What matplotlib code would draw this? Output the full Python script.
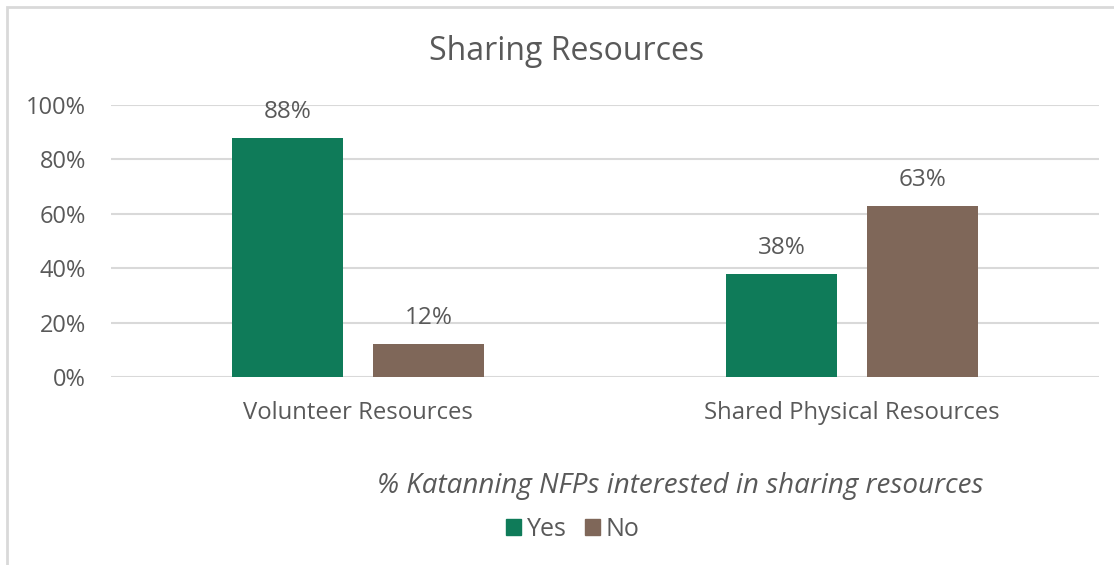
import matplotlib.pyplot as plt
import numpy as np
from matplotlib.patches import Patch, Rectangle

categories = ['Volunteer Resources', 'Shared Physical Resources']
yes_values = [88, 38]
no_values = [12, 63]
series_names = ['Yes', 'No']
y_ticks = [0, 20, 40, 60, 80, 100]

green = '#0f7b59'
brown = '#7f6759'
text_grey = '#595959'
grid_grey = '#d9d9d9'

plt.rcParams['font.family'] = ['Open Sans', 'DejaVu Sans']

fig = plt.figure(figsize=(11.14, 5.65), dpi=100)
ax = fig.add_axes([111 / 1114, 1 - 377 / 565, 988 / 1114, 272 / 565])

x = np.arange(len(categories))
width = 0.225
offset = 0.1425

bars_yes = ax.bar(x - offset, yes_values, width, color=green, zorder=3)
bars_no = ax.bar(x + offset, no_values, width, color=brown, zorder=3)

for bars in (bars_yes, bars_no):
    for b in bars:
        ax.annotate(f'{b.get_height():.0f}%',
                    (b.get_x() + b.get_width() / 2, b.get_height()),
                    xytext=(0, 10), textcoords='offset points',
                    ha='center', va='bottom', fontsize=17.5, color=text_grey)

ax.set_xlim(-0.5, 1.5)
ax.set_ylim(0, 100)
ax.set_yticks(y_ticks)
ax.set_yticklabels([f'{v}%' for v in y_ticks])
ax.set_xticks(x)
ax.set_xticklabels(categories)
ax.tick_params(axis='y', length=0, pad=18, labelsize=17, labelcolor=text_grey)
ax.tick_params(axis='x', length=0, pad=17, labelsize=17.2, labelcolor=text_grey)

ax.grid(axis='y', color=grid_grey, linewidth=1.5, zorder=0)
for side in ['top', 'right', 'left', 'bottom']:
    ax.spines[side].set_visible(False)

fig.text(567 / 1114, 1 - 51 / 565, 'Sharing Resources', ha='center', va='center',
         fontsize=23, color=text_grey)
fig.text(680 / 1114, 1 - 486 / 565, '% Katanning NFPs interested in sharing resources',
         ha='center', va='center', fontsize=20, style='italic', color=text_grey)

handles = [Patch(color=green), Patch(color=brown)]
fig.legend(handles, series_names, loc='center', bbox_to_anchor=(573 / 1114, 1 - 529 / 565),
           ncol=2, frameon=False, fontsize=18, labelcolor=text_grey,
           handlelength=0.6, handleheight=0.6, handletextpad=0.25, columnspacing=0.7)

# chart border, only top and left edges fall inside the canvas
fig.patches.append(Rectangle((7 / 1114, -0.1), 1.2, 1 - 7 / 565 + 0.1,
                             transform=fig.transFigure, fill=False,
                             edgecolor=grid_grey, linewidth=2))

fig.savefig('out.png', dpi=100)
